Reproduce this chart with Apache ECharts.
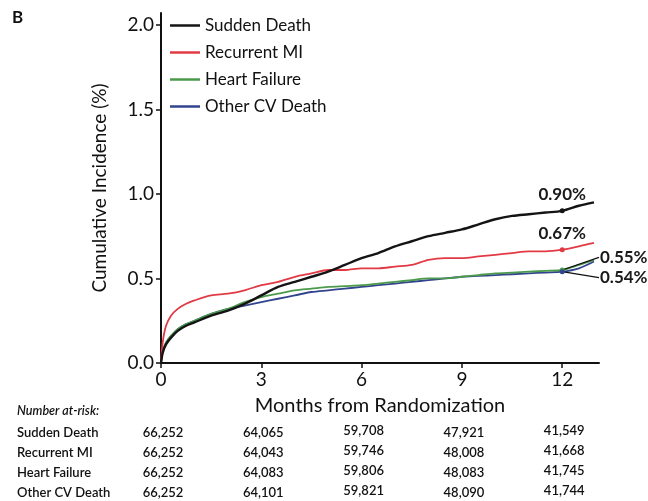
<!DOCTYPE html>
<html>
<head>
<meta charset="utf-8">
<script src="https://cdn.jsdelivr.net/npm/echarts@6/dist/echarts.min.js"></script>
<style>
  html, body { margin: 0; padding: 0; background: #fff; }
  #chart-panel { width: 648px; height: 501px; }
</style>
</head>
<body>
<div id="chart-panel"></div>
<script>
// months from randomization (shared x for all curves)
var months = [0, 0.05, 0.15, 0.3, 0.5, 0.75, 1, 1.5, 2, 2.5, 3, 3.5, 4, 4.5, 5, 5.5, 6, 6.5, 7, 7.5, 8, 8.5, 9, 9.5, 10, 10.5, 11, 11.5, 12, 12.5, 12.95];

var suddenDeath = [0, 0.06, 0.11, 0.15, 0.19, 0.22, 0.24, 0.28, 0.31, 0.35, 0.40, 0.45, 0.48, 0.51, 0.54, 0.58, 0.62, 0.65, 0.69, 0.72, 0.75, 0.77, 0.79, 0.82, 0.85, 0.87, 0.88, 0.89, 0.90, 0.93, 0.95];
var recurrentMI = [0, 0.12, 0.22, 0.28, 0.32, 0.35, 0.37, 0.40, 0.41, 0.43, 0.46, 0.48, 0.51, 0.53, 0.55, 0.55, 0.56, 0.56, 0.57, 0.58, 0.61, 0.62, 0.62, 0.63, 0.64, 0.65, 0.66, 0.66, 0.67, 0.69, 0.71];
var heartFailure = [0, 0.07, 0.12, 0.16, 0.20, 0.23, 0.25, 0.29, 0.32, 0.36, 0.39, 0.41, 0.43, 0.44, 0.45, 0.455, 0.46, 0.47, 0.48, 0.49, 0.50, 0.50, 0.51, 0.52, 0.53, 0.535, 0.54, 0.545, 0.55, 0.58, 0.61];
var otherCV = [0, 0.07, 0.12, 0.16, 0.20, 0.23, 0.25, 0.29, 0.32, 0.34, 0.36, 0.38, 0.40, 0.42, 0.43, 0.44, 0.45, 0.46, 0.47, 0.48, 0.49, 0.50, 0.51, 0.515, 0.52, 0.525, 0.53, 0.535, 0.54, 0.56, 0.60];

var seriesNames = ['Sudden Death', 'Recurrent MI', 'Heart Failure', 'Other CV Death'];
var colors = ['#141414', '#e23a44', '#4c9a4c', '#33448f'];
var endValues = [0.90, 0.67, 0.55, 0.54];   // 12-month rates
var xTicks = [0, 3, 6, 9, 12];
var yTicks = [0, 0.5, 1.0, 1.5, 2.0];

// number at risk table
var riskRows = ['Sudden Death', 'Recurrent MI', 'Heart Failure', 'Other CV Death'];
var riskSudden = ['66,252', '64,065', '59,708', '47,921', '41,549'];
var riskMI = ['66,252', '64,043', '59,746', '48,008', '41,668'];
var riskHF = ['66,252', '64,083', '59,806', '48,083', '41,745'];
var riskOther = ['66,252', '64,101', '59,821', '48,090', '41,744'];
var riskTable = [riskSudden, riskMI, riskHF, riskOther];

var FONT = 'Lato, "Open Sans", sans-serif';

function pairs(ys) {
  return months.map(function (m, i) { return [m, ys[i]]; });
}

var chart = document.getElementById('chart-panel');
var myChart = echarts.init(chart);

var curves = [suddenDeath, recurrentMI, heartFailure, otherCV];
var series = curves.map(function (ys, i) {
  return {
    name: seriesNames[i],
    type: 'line',
    data: pairs(ys),
    smooth: 0.3,
    showSymbol: false,
    z: 4 - i + 2,
    lineStyle: { color: colors[i], width: i === 0 ? 2.4 : 1.8 },
    itemStyle: { color: colors[i] }
  };
});

// 12-month markers
series.push({
  type: 'scatter',
  symbol: 'circle',
  symbolSize: 5,
  z: 10,
  itemStyle: { opacity: 1 },
  data: endValues.map(function (v, i) {
    var item = { value: [12, v], itemStyle: { color: colors[i], opacity: 1 } };
    if (i < 2) {
      item.label = {
        show: true, position: 'top', distance: 5,
        formatter: v.toFixed(2) + '%',
        color: '#1a1a1a', fontFamily: FONT, fontSize: 17, fontWeight: 'bold'
      };
    }
    return item;
  }),
  silent: true
});

// leader lines for the two close rates
var leaderEnds = [[13.1, 0.625], [13.1, 0.505]];
[2, 3].forEach(function (i, k) {
  series.push({
    type: 'line',
    silent: true,
    showSymbol: false,
    z: 9,
    lineStyle: { color: '#111', width: 1.3 },
    endLabel: {
      show: true, distance: 1,
      formatter: endValues[i].toFixed(2) + '%',
      color: '#1a1a1a', fontFamily: FONT, fontSize: 17, fontWeight: 'bold'
    },
    data: [[12, endValues[i]], leaderEnds[k]]
  });
});

var option = {
  animation: false,
  textStyle: { fontFamily: FONT },
  grid: { left: 161, right: 49, top: 13, bottom: 138, containLabel: false },
  legend: {
    orient: 'vertical',
    left: 165,
    top: 12,
    icon: 'rect',
    itemWidth: 30,
    itemHeight: 2.5,
    itemGap: 10,
    data: seriesNames,
    textStyle: { fontFamily: FONT, fontSize: 17, color: '#111', lineHeight: 17 }
  },
  xAxis: {
    type: 'value',
    min: 0,
    max: 13.1,
    name: 'Months from Randomization',
    nameLocation: 'middle',
    nameGap: 33,
    nameTextStyle: { fontFamily: FONT, fontSize: 20, color: '#111' },
    axisLine: { lineStyle: { color: '#111', width: 2 } },
    axisTick: { customValues: xTicks, length: 5, lineStyle: { color: '#111', width: 1.5 } },
    axisLabel: { customValues: xTicks, fontSize: 19, color: '#111', margin: 7 },
    splitLine: { show: false }
  },
  yAxis: {
    type: 'value',
    min: 0,
    max: 2.07,
    name: 'Cumulative Incidence (%)',
    nameLocation: 'middle',
    nameGap: 52,
    nameTextStyle: { fontFamily: FONT, fontSize: 19, color: '#111' },
    axisLine: { show: true, lineStyle: { color: '#111', width: 2 } },
    axisTick: { show: true, customValues: yTicks, length: 5, lineStyle: { color: '#111', width: 1.5 } },
    axisLabel: {
      customValues: yTicks, fontSize: 19, color: '#111', margin: 7,
      formatter: function (v) { return v.toFixed(1); }
    },
    splitLine: { show: false }
  },
  series: series
};

myChart.setOption(option);

// panel letter + number at risk table, placed under the x ticks
var g = [{
  type: 'text', left: 12, top: 9,
  style: { text: 'B', font: 'bold 17px ' + FONT, fill: '#111' }
}, {
  type: 'text', left: 17, top: 404,
  style: { text: 'Number at-risk:', font: 'italic 600 12.5px ' + FONT, fill: '#111' }
}];
var rowY = [426, 446, 466, 486];
riskRows.forEach(function (name, r) {
  g.push({
    type: 'text', left: 17, top: rowY[r],
    style: { text: name, font: '600 13px ' + FONT, fill: '#111' }
  });
  riskTable[r].forEach(function (txt, c) {
    var px = myChart.convertToPixel({ xAxisIndex: 0 }, xTicks[c]);
    g.push({
      type: 'text', x: px + 2, y: rowY[r] - (c === 2 || c === 4 ? 2 : 0),
      style: { text: txt, font: '600 13px ' + FONT, fill: '#111', align: 'center' }
    });
  });
});
myChart.setOption({ graphic: g });
</script>
</body>
</html>
